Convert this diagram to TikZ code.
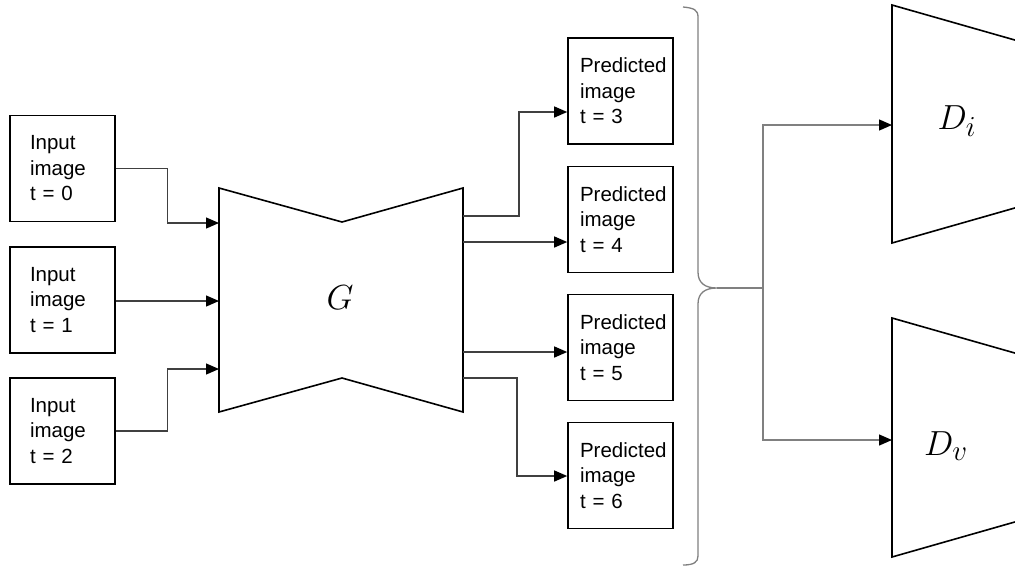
\documentclass[tikz,border=0pt]{standalone}
\usepackage{fontspec}
\newfontfamily\boxfont{Liberation Sans}
\usetikzlibrary{arrows.meta}

\tikzset{
  frame/.style={draw=black, line width=1.6pt, rectangle, minimum height=106pt,
    align=left, font=\boxfont\fontsize{20.5}{25.5}\selectfont},
  inbox/.style={frame, inner xsep=20pt, text width=65pt},
  predbox/.style={frame, inner xsep=12pt, text width=81pt},
  net/.style={draw=black, line width=1.6pt, line join=miter},
  tip/.style={-{Triangle[length=13pt,width=11pt,color=black]}},
  feed/.style={draw=black!75, line width=1.3pt, tip},
  light/.style={draw=black!50, line width=1.3pt},
  lightfeed/.style={light, tip},
  mathlbl/.style={inner sep=0pt, anchor=base}
}
\newcommand{\biglbl}[1]{\scalebox{1.4}{\fontsize{24.88}{28}\selectfont$#1$}}

\begin{document}
\begin{tikzpicture}[x=1pt, y=-1pt]
\useasboundingbox (0,0) rectangle (1015,566);
\clip (0,0) rectangle (1015,566);

% input frames
\node[inbox] (in0) at (62.5,168.5) {Input\\image\\t = 0};
\node[inbox] (in1) at (62.5,300)   {Input\\image\\t = 1};
\node[inbox] (in2) at (62.5,431)   {Input\\image\\t = 2};

% generator
\draw[net] (219,188) -- (342,222) -- (463,188) -- (463,412)
  -- (342,378) -- (219,412) -- cycle;
\node[mathlbl] (G) at (340,309) {\biglbl{G}};
\coordinate (gi0) at (219,223);
\coordinate (gi1) at (219,301);
\coordinate (gi2) at (219,369);
\coordinate (go3) at (463,216);
\coordinate (go4) at (463,242);
\coordinate (go5) at (463,352);
\coordinate (go6) at (463,378);

% predicted frames
\node[predbox] (p3) at (620.5,91)    {Predicted\\image\\t = 3};
\node[predbox] (p4) at (620.5,219.5) {Predicted\\image\\t = 4};
\node[predbox] (p5) at (620.5,347.5) {Predicted\\image\\t = 5};
\node[predbox] (p6) at (620.5,475.5) {Predicted\\image\\t = 6};

% inputs into G
\draw[feed] (in0.east) -- ++(52,0) |- (gi0);
\draw[feed] (in1.east |- gi1) -- (gi1);
\draw[feed] (in2.east) -- ++(52,0) |- (gi2);

% G outputs
\draw[feed] (go3) -- ++(56,0) |- ([yshift=-21pt]p3.west);
\draw[feed] (go4) -- (p4.west |- go4);
\draw[feed] (go5) -- (p5.west |- go5);
\draw[feed] (go6) -- ++(54,0) |- ([yshift=-0.5pt]p6.west);

% brace grouping the predictions
\coordinate (tp) at (717,288);
\draw[light] (683,7) .. controls (694,8) and (698,10) .. (698,17)
  -- (698,272) .. controls (698,283) and (705,288) .. (tp)
  .. controls (705,288) and (698,293) .. (698,304)
  -- (698,556) .. controls (698,562) and (694,565) .. (683,565);

% discriminators
\draw[net] (1040,47.2) -- (892,5) -- (892,243) -- (1040,200.8);
\draw[net] (1040,360.2) -- (892,318) -- (892,557) -- (1040,514.8);
\node[mathlbl] (Di) at (957,129) {\biglbl{D_i}};
\node[mathlbl] (Dv) at (946,455) {\biglbl{D_v}};
\coordinate (di) at (892,125);
\coordinate (dv) at (892,440);

% split to both discriminators
\coordinate (split) at (763,288);
\draw[light] (tp) -- (split);
\draw[lightfeed] (split) |- (di);
\draw[lightfeed] (split) |- (dv);
\end{tikzpicture}
\end{document}
